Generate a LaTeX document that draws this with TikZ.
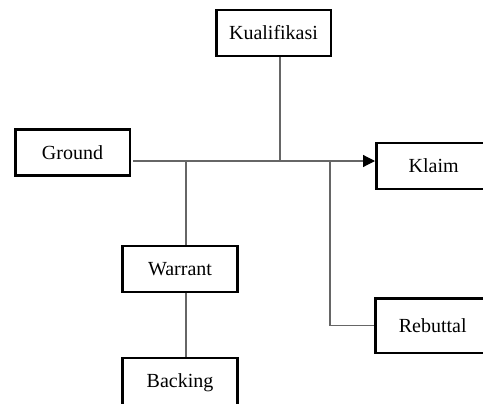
\documentclass[tikz,border=0pt]{standalone}
\usepackage{fontspec}
\setmainfont{Liberation Serif}
\usepackage{tikz}
\usetikzlibrary{arrows.meta,positioning}

\begin{document}
\begin{tikzpicture}[
    x=0.75pt, y=-0.75pt,
    box/.style={draw, line width=2pt, minimum width=86pt, minimum height=34.5pt, inner sep=0pt, font=\fontsize{15}{17}\selectfont},
    link/.style={draw=black!60, line width=0.9pt},
    arrow/.style={link, -{Triangle[length=9pt, width=9pt, color=black]}}
]
\useasboundingbox (0,0) rectangle (483,404);
\clip (0,0) rectangle (483,404);
\node[box] (kual) at (273.5,33) {Kualifikasi};
\node[box] (ground) at (72.5,152.5) {Ground};
\node[box, anchor=west] (klaim) at (375,166) {Klaim};
\node[box] (warrant) at (180,269) {Warrant};
\node[box, minimum height=37.5pt] (backing) at (180,383) {Backing};
\node[box, anchor=west, minimum height=41pt] (rebuttal) at (374,325.5) {Rebuttal};
\coordinate (start) at (133,161);
\coordinate (jw) at (186,161);
\coordinate (jq) at (280,161);
\coordinate (jr) at (330,161);
\draw[arrow] (start) -- (klaim.west |- start);
\draw[link] (kual.south -| jq) -- (jq);
\draw[link] (jw) -- (warrant.north -| jw);
\draw[link] (warrant.south -| jw) -- (backing.north -| jw);
\draw[link] (jr) |- (rebuttal.west);
\end{tikzpicture}
\end{document}
